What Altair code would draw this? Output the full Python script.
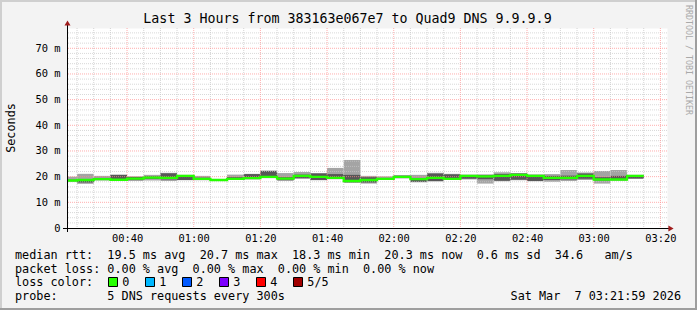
import altair as alt
import pandas as pd

# ---------------- data ----------------
# start of each 5-minute step, minutes after 00:00
step_start = [20, 25, 30, 35, 40, 45, 50, 55, 60, 65, 70, 75, 80, 85, 90, 95, 100, 105,
              110, 115, 120, 125, 130, 135, 140, 145, 150, 155, 160, 165, 170, 175, 180, 185, 190]
ping_min = [17.9, 17.2, 18.5, 18.3, 18.3, 18.5, 18.3, 18.6, 18.6, 18.4, 18.7, 18.9, 19.4, 18.3, 19.1, 18.6, 19.0, 17.6,
            17.3, 18.9, 19.3, 17.8, 18.1, 18.8, 18.9, 17.3, 18.2, 18.6, 18.2, 18.0, 18.3, 18.7, 17.3, 18.5, 19.1]
ping_p2 = [18.3, 17.7, 18.7, 18.5, 18.8, 19.1, 18.9, 18.7, 18.8, 18.5, 18.9, 19.1, 19.6, 18.8, 19.5, 18.7, 19.2, 17.8,
           17.7, 19.0, 19.5, 18.0, 18.3, 18.9, 19.2, 19.0, 18.4, 18.8, 18.3, 18.7, 18.9, 19.2, 18.5, 18.6, 19.3]
median = [18.5, 18.7, 19.0, 18.8, 19.2, 19.6, 19.5, 20.3, 19.1, 18.7, 19.1, 19.4, 19.9, 19.2, 20.3, 19.9, 19.5, 18.3,
          18.7, 19.1, 19.9, 19.0, 19.5, 19.1, 20.3, 20.1, 20.3, 20.7, 20.3, 19.5, 19.5, 20.3, 18.9, 18.9, 20.3]
ping_p4 = [18.8, 19.0, 19.5, 20.6, 19.9, 20.1, 21.3, 20.6, 19.6, 19.0, 19.8, 21.0, 22.2, 19.8, 20.8, 21.2, 21.0, 20.7,
           19.8, 19.5, 20.4, 19.5, 21.2, 20.9, 20.6, 20.6, 21.0, 21.2, 20.6, 20.3, 20.4, 21.2, 19.8, 20.3, 20.5]
ping_max = [20.0, 21.1, 20.3, 20.8, 20.1, 20.7, 21.5, 20.7, 20.3, 19.1, 20.8, 21.1, 22.4, 21.4, 21.8, 21.4, 23.4, 26.5,
            20.3, 20.1, 20.5, 20.7, 21.5, 21.1, 20.8, 20.9, 21.7, 21.4, 20.9, 21.0, 22.6, 21.6, 22.2, 22.6, 20.7]
STEP = 5

x_major = [40, 60, 80, 100, 120, 140, 160, 180, 200]
x_minor = [25, 30, 35, 45, 50, 55, 65, 70, 75, 85, 90, 95, 105, 110, 115, 125, 130, 135,
           145, 150, 155, 165, 170, 175, 185, 190, 195]
y_major = [10, 20, 30, 40, 50, 60, 70]
y_labels = [0, 10, 20, 30, 40, 50, 60, 70]
y_minor = [2, 4, 6, 8, 12, 14, 16, 18, 22, 24, 26, 28, 32, 34, 36, 38, 42, 44, 46, 48,
           52, 54, 56, 58, 62, 64, 66, 68, 72, 74, 76]

title_text = "Last 3 Hours from 383163e067e7 to Quad9 DNS 9.9.9.9"
y_title = "Seconds"
watermark = "RRDTOOL / TOBI OETIKER"
legend_line1 = "median rtt:  19.5 ms avg  20.7 ms max  18.3 ms min  20.3 ms now  0.6 ms sd  34.6   am/s"
legend_line2 = "packet loss: 0.00 % avg  0.00 % max  0.00 % min  0.00 % now"
legend_line3 = "loss color:"
loss_labels = ["0", "1", "2", "3", "4", "5/5"]
loss_colors = ["#26ff00", "#00b8ff", "#0059ff", "#7e00ff", "#ff0000", "#a10000"]
legend_line4 = "probe:       5 DNS requests every 300s"
date_text = "Sat Mar  7 03:21:59 2026"

# ---------------- chart ----------------
NB = "\u00a0"
MONO = "DejaVu Sans Mono"
W, H = 600, 200
X0, Y0 = 67, 28  # plot origin in the canvas

xs = alt.Scale(domain=[21 + 59 / 60, 201 + 59 / 60], nice=False, zero=False)
ys = alt.Scale(domain=[0, 77.9], nice=False, zero=True)

x_axis = alt.Axis(values=x_major, grid=False, domain=False, ticks=False, tickSize=0, title=None,
                  labelFont=MONO, labelFontSize=10.4, labelColor="#000000", labelPadding=10,
                  labelBaseline="middle", labelFlush=False, labelOverlap=False,
                  labelExpr="(floor(datum.value/60)<10?'0':'')+floor(datum.value/60)+':'+"
                            "(datum.value%60<10?'0':'')+(datum.value%60)")
y_axis = alt.Axis(values=y_labels, grid=False, domain=False, ticks=False, tickSize=0, title=None,
                  labelFont=MONO, labelFontSize=10.4, labelColor="#000000", labelPadding=7,
                  labelAlign="right", labelBaseline="middle", labelFlush=False, labelOverlap=False,
                  labelExpr=f"datum.value==0?'0{NB}{NB}':datum.value+'{NB}m'")

df = pd.DataFrame({"t": step_start, "t2": [s + STEP for s in step_start],
                   "mn": ping_min, "p2": ping_p2, "med": median, "p4": ping_p4, "mx": ping_max})
line_df = pd.DataFrame({"t": step_start + [step_start[-1] + STEP], "med": median + [median[-1]]})


def X(field):
    return alt.X(field, scale=xs, axis=x_axis)


def Y(field):
    return alt.Y(field, scale=ys, axis=y_axis)


light = alt.Chart(df).mark_rect(color="#a4a4a4", clip=True).encode(
    x=X("t:Q"), x2="t2:Q", y=Y("mn:Q"), y2="mx:Q")
dark = alt.Chart(df).mark_rect(color="#575757", clip=True).encode(
    x=X("t:Q"), x2="t2:Q", y=Y("p2:Q"), y2="p4:Q")
med_line = alt.Chart(line_df).mark_line(color="#26ff00", strokeWidth=2.3, interpolate="step-after",
                                        clip=True).encode(x=X("t:Q"), y=Y("med:Q"))

gx_min = alt.Chart(pd.DataFrame({"v": x_minor})).mark_rule(
    color="#c8c8c8", strokeDash=[1, 1], strokeWidth=1, opacity=0.8).encode(x=X("v:Q"))
gy_min = alt.Chart(pd.DataFrame({"v": y_minor})).mark_rule(
    color="#c8c8c8", strokeDash=[1, 1], strokeWidth=1, opacity=0.7).encode(y=Y("v:Q"))
gx_maj = alt.Chart(pd.DataFrame({"v": x_major})).mark_rule(
    color="#ff8c8c", strokeDash=[1, 1], strokeWidth=1, opacity=0.7).encode(x=X("v:Q"))
gy_maj = alt.Chart(pd.DataFrame({"v": y_major})).mark_rule(
    color="#ff8c8c", strokeDash=[1, 1], strokeWidth=1, opacity=0.7).encode(y=Y("v:Q"))

x_axis_line = alt.Chart().mark_rule(color="#000000", strokeWidth=1).encode(
    x=alt.value(-4), x2=alt.value(W + 3), y=alt.value(H + 0.5))
y_axis_line = alt.Chart().mark_rule(color="#000000", strokeWidth=1).encode(
    y=alt.value(-4), y2=alt.value(H + 4), x=alt.value(0.5))
arrow_r = alt.Chart().mark_point(shape="triangle-right", filled=True, color="#a01c1c", size=36,
                                 opacity=1).encode(x=alt.value(W + 4), y=alt.value(H + 0.5))
arrow_u = alt.Chart().mark_point(shape="triangle-up", filled=True, color="#a01c1c", size=36,
                                 opacity=1).encode(x=alt.value(0.5), y=alt.value(-5))


# frame (3D border of the canvas)
def strip(x1, x2, y1, y2, color):
    return alt.Chart().mark_rect(color=color).encode(
        x=alt.value(x1 - X0), x2=alt.value(x2 - X0), y=alt.value(y1 - Y0), y2=alt.value(y2 - Y0))


frame = [strip(0, 697, 0, 2, "#cfcfcf"), strip(0, 2, 0, 310, "#cfcfcf"),
         strip(0, 697, 308, 310, "#9e9e9e"), strip(695, 697, 0, 310, "#9e9e9e")]


def text(s, x, y, size=11.8, align="left", angle=0, color="#000000"):
    return alt.Chart(pd.DataFrame({"s": [s.replace(" ", NB)]})).mark_text(
        font=MONO, fontSize=size, align=align, baseline="middle", angle=angle, color=color
    ).encode(x=alt.value(x - X0), y=alt.value(y - Y0), text="s:N")


texts = [
    text(title_text, 347.5, 19, size=13.3, align="center"),
    text(y_title, 11, 128, angle=270, align="center"),
    text(watermark, 688, 60, size=8.3, angle=90, align="center", color="#a9a9a9"),
    text(legend_line1, 15, 254.5),
    text(legend_line2, 15, 268.5),
    text(legend_line3, 15, 282),
    text(legend_line4, 15, 296),
    text(date_text, 681, 296, align="right"),
]

leg_df = pd.DataFrame({"label": loss_labels, "color": loss_colors, "i": list(range(len(loss_labels)))})
boxes = alt.Chart(leg_df).transform_calculate(
    bx=f"108.5 + 37*datum.i - {X0}", bx2=f"117.5 + 37*datum.i - {X0}"
).mark_rect(stroke="#000000", strokeWidth=1).encode(
    x=alt.X("bx:Q", scale=None), x2="bx2:Q",
    y=alt.value(277.5 - Y0), y2=alt.value(286.5 - Y0),
    color=alt.Color("color:N", scale=None))
box_labels = alt.Chart(leg_df).transform_calculate(
    lx=f"122.3 + 37*datum.i - {X0}"
).mark_text(font=MONO, fontSize=11.8, align="left", baseline="middle", color="#000000").encode(
    x=alt.X("lx:Q", scale=None), y=alt.value(282 - Y0), text="label:N")

chart = alt.layer(
    light, dark, gx_min, gy_min, gx_maj, gy_maj, med_line,
    x_axis_line, y_axis_line, arrow_r, arrow_u, *frame, *texts, boxes, box_labels
).properties(
    width=W, height=H,
    padding={"left": X0, "top": Y0, "right": 697 - X0 - W, "bottom": 310 - Y0 - H},
    autosize=alt.AutoSizeParams(type="none"),
).configure(background="#f3f3f3").configure_view(fill="#ffffff", strokeOpacity=0)

chart.save("out.html", embed_options={"renderer": "svg", "actions": False})
